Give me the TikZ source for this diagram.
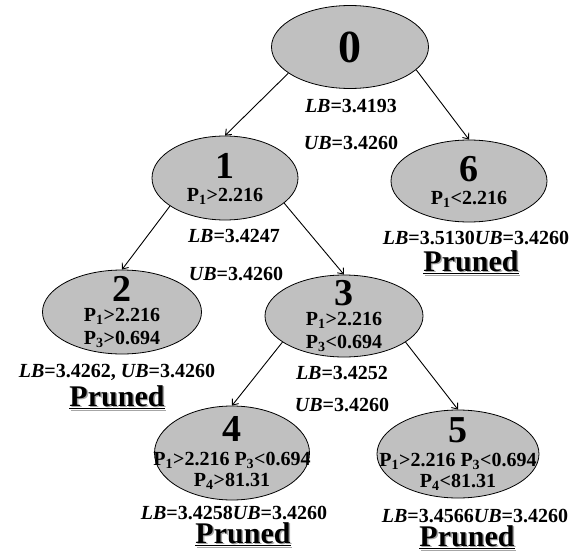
\documentclass[tikz,border=0pt]{standalone}
\usepackage{fontspec}
\setmainfont{Liberation Serif}
\usetikzlibrary{arrows.meta, shapes.geometric}
\definecolor{nodegray}{RGB}{192,192,192}
\newcommand{\bignum}[1]{{\fontsize{38}{38}\selectfont #1}}
\newcommand{\prunedtext}{\makebox[0pt][l]{\hspace{1.5pt}\raisebox{-1.5pt}{\color{black!35}\underline{Pruned}}}\underline{Pruned}}
\tikzset{
  bnode/.style={draw, thick, ellipse, fill=nodegray, inner sep=0pt},
  ntext/.style={align=center, inner sep=0pt, font=\bfseries\fontsize{20}{23}\selectfont},
  bound/.style={inner sep=0pt, font=\bfseries\fontsize{20}{23}\selectfont},
  pruned/.style={inner sep=0pt, font=\bfseries\fontsize{30}{30}\selectfont},
  edge/.style={-{Straight Barb[length=5pt,width=8pt]}, line width=0.9pt}
}
\begin{document}
\begin{tikzpicture}[x=1pt, y=-1pt]
    \useasboundingbox (0,0) rectangle (587,554);

    % Nodes
    \node[bnode, minimum width=157pt, minimum height=83pt,
      label={[ntext]center:{\fontsize{46}{46}\selectfont 0}}] (n0) at (350,47) {};
    \node[bnode, minimum width=146pt, minimum height=84pt,
      label={[ntext, yshift=-1pt]center:{\bignum{1}\\P\textsubscript{1}>2.216}}] (n1) at (225,178) {};
    \node[bnode, minimum width=156pt, minimum height=82pt,
      label={[ntext, yshift=-1pt]center:{\bignum{6}\\P\textsubscript{1}<2.216}}] (n6) at (469,181) {};
    \node[bnode, minimum width=159pt, minimum height=84pt,
      label={[ntext]center:{\bignum{2}\\[-3pt]P\textsubscript{1}>2.216\\P\textsubscript{3}>0.694}}] (n2) at (122,312) {};
    \node[bnode, minimum width=158pt, minimum height=82pt,
      label={[ntext]center:{\bignum{3}\\[-3pt]P\textsubscript{1}>2.216\\P\textsubscript{3}<0.694}}] (n3) at (344,316) {};
    \node[bnode, minimum width=155pt, minimum height=94pt,
      label={[ntext]center:{\bignum{4}\\[1pt]P\textsubscript{1}>2.216 P\textsubscript{3}<0.694\\[-2pt]P\textsubscript{4}>81.31}}] (n4) at (232,453) {};
    \node[bnode, minimum width=162pt, minimum height=88pt,
      label={[ntext]center:{\bignum{5}\\[1pt]P\textsubscript{1}>2.216 P\textsubscript{3}<0.694\\[-2pt]P\textsubscript{4}<81.31}}] (n5) at (458,454) {};

    % Arrows
    \draw[edge] (n0.203) -- (n1.north);
    \draw[edge] (n0.341) -- (n6.north);
    \draw[edge] (n1.207) -- (n2.north);
    \draw[edge] (n1.337) -- (n3.north);
    \draw[edge] (n3.203) -- (n4.north);
    \draw[edge] (n3.337) -- (n5.north);

    % Bounds
    \node[bound] (lb0) at (351,106) {\textit{LB}=3.4193};
    \node[bound] (ub0) at (351,143) {\textit{UB}=3.4260};
    \node[bound] (lb1) at (234,236) {\textit{LB}=3.4247};
    \node[bound] (ub1) at (236,274) {\textit{UB}=3.4260};
    \node[bound] (lb6) at (476,238) {\textit{LB}=3.5130\textit{UB}=3.4260};
    \node[bound] (lb2) at (117,372) {\textit{LB}=3.4262, \textit{UB}=3.4260};
    \node[bound] (lb3) at (342,373) {\textit{LB}=3.4252};
    \node[bound] (ub3) at (342,405) {\textit{UB}=3.4260};
    \node[bound] (lb4) at (234,513) {\textit{LB}=3.4258\textit{UB}=3.4260};
    \node[bound] (lb5) at (475,516) {\textit{LB}=3.4566\textit{UB}=3.4260};

    % Pruned
    \node[pruned] (pr6) at (471,263) {\prunedtext};
    \node[pruned] (pr2) at (117,398) {\prunedtext};
    \node[pruned] (pr4) at (243,535) {\prunedtext};
    \node[pruned] (pr5) at (467,538) {\prunedtext};
\end{tikzpicture}
\end{document}
